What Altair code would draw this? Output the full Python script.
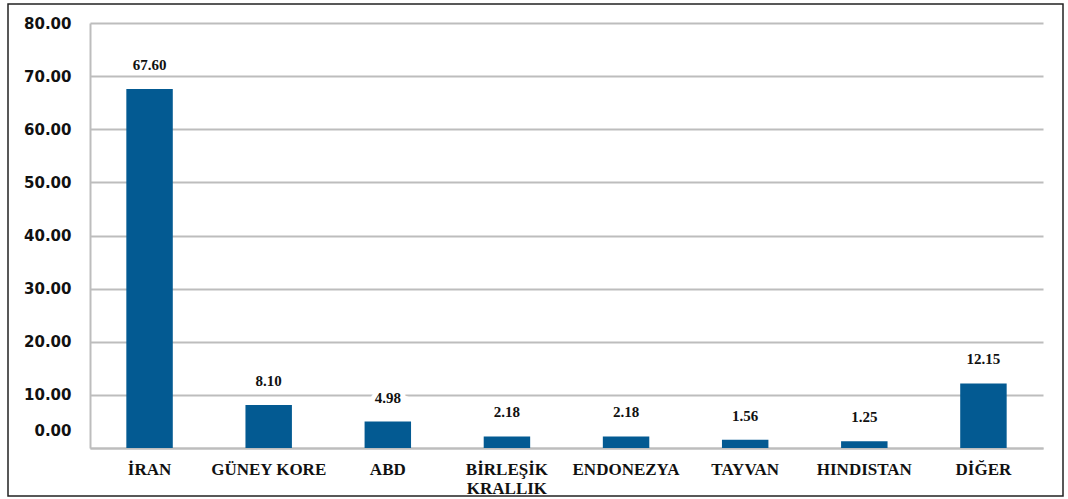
import altair as alt
import pandas as pd

# Share by country (%)
countries = ["İRAN", "GÜNEY KORE", "ABD", "BİRLEŞİK KRALLIK",
             "ENDONEZYA", "TAYVAN", "HINDISTAN", "DİĞER"]
shares = [67.60, 8.10, 4.98, 2.18, 2.18, 1.56, 1.25, 12.15]
y_ticks = [0, 10, 20, 30, 40, 50, 60, 70, 80]

df = pd.DataFrame({"country": countries, "share": shares})

BAR_COLOR = "#035A92"
GRID_COLOR = "#BDBDBD"

x_enc = alt.X(
    "country:N",
    sort=countries,
    scale=alt.Scale(paddingInner=0.61, paddingOuter=0.305),
    axis=alt.Axis(
        title=None,
        labelAngle=0,
        labelFont="Liberation Serif",
        labelFontWeight="bold",
        labelFontSize=17,
        labelColor="#111111",
        labelPadding=13,
        labelLineHeight=19,
        labelBaseline="top",
        labelExpr="indexof(datum.label, ' KRALLIK') > 0 ? split(datum.label, ' ') : datum.label",
        ticks=False,
        domain=True,
        domainColor=GRID_COLOR,
        domainWidth=2,
        grid=False,
    ),
)

y_enc = alt.Y(
    "share:Q",
    scale=alt.Scale(domain=[0, 80], nice=False),
    axis=alt.Axis(
        title=None,
        values=y_ticks,
        format=".2f",
        labelFont="DejaVu Sans",
        labelFontWeight="bold",
        labelFontSize=15,
        labelColor="#111111",
        labelPadding=19,
        labelOffset={"condition": {"test": "datum.value == 0", "value": -18}, "value": 0},
        ticks=False,
        domain=True,
        domainColor=GRID_COLOR,
        domainWidth=2,
        grid=True,
        gridColor=GRID_COLOR,
        gridWidth=2,
    ),
)

bars = alt.Chart(df).mark_bar(color=BAR_COLOR).encode(x=x_enc, y=y_enc)

label_style = dict(
    font="Liberation Serif", fontWeight="bold", fontSize=15,
    baseline="middle", align="center", dy=-24,
)

# white halo so the value labels sit on a clean background
halo = alt.Chart(df).mark_text(
    color="white", stroke="white", strokeWidth=10, **label_style
).encode(
    x=alt.X("country:N", sort=countries),
    y="share:Q",
    text=alt.Text("share:Q", format=".2f"),
)

labels = alt.Chart(df).mark_text(color="#111111", **label_style).encode(
    x=alt.X("country:N", sort=countries),
    y="share:Q",
    text=alt.Text("share:Q", format=".2f"),
)

# outer frame around the whole figure
frame = alt.Chart(pd.DataFrame({"k": [0]})).mark_rect(
    filled=False, stroke="#222222", strokeWidth=1.5
).encode(
    x=alt.value(-82), x2=alt.value(973),
    y=alt.value(-19), y2=alt.value(473),
)

chart = alt.layer(bars, halo, labels, frame).properties(
    width=953,
    height=425,
    autosize=alt.AutoSizeParams(type="none"),
    padding={"left": 90, "top": 23, "right": 25, "bottom": 51},
    background="white",
).configure_view(stroke=None)

chart.save("out.html", embed_options={"renderer": "svg", "actions": False})
